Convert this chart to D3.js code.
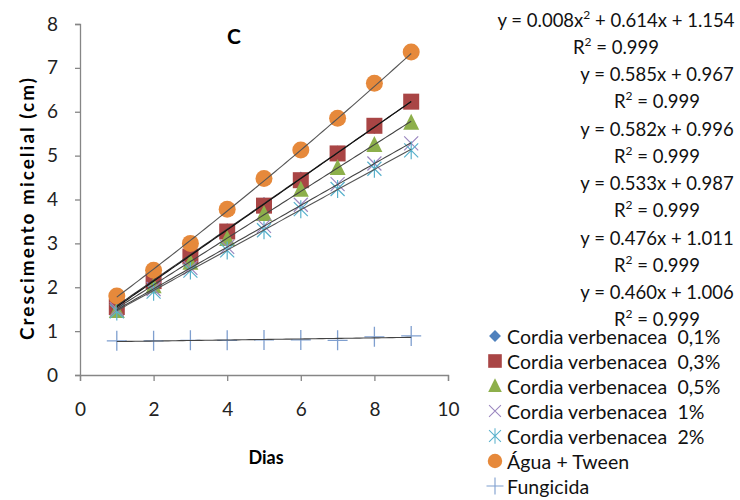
<!DOCTYPE html>
<html>
<head>
<meta charset="utf-8">
<script src="https://cdn.jsdelivr.net/npm/d3@7"></script>
<style>
  html, body { margin: 0; padding: 0; background: #fff; }
  svg { display: block; font-family: Lato, "Open Sans", sans-serif; }
  text { white-space: pre; }
</style>
</head>
<body>
<svg id="chart" width="740" height="500"></svg>
<script>
// Mycelial growth (cm) per day for each treatment
const dias = [1, 2, 3, 4, 5, 6, 7, 8, 9];
const seriesNames = [
  "Cordia verbenacea  0,1%",
  "Cordia verbenacea  0,3%",
  "Cordia verbenacea  0,5%",
  "Cordia verbenacea  1%",
  "Cordia verbenacea  2%",
  "Água + Tween",
  "Fungicida"
];
const cv01  = [1.55, 2.15, 2.74, 3.30, 3.90, 4.48, 5.07, 5.65, 6.22];
const cv03  = [1.55, 2.14, 2.70, 3.27, 3.86, 4.44, 5.05, 5.68, 6.23];
const cv05  = [1.46, 2.02, 2.56, 3.10, 3.67, 4.22, 4.72, 5.24, 5.75];
const cv1   = [1.50, 1.96, 2.44, 2.92, 3.40, 3.88, 4.35, 4.82, 5.28];
const cv2   = [1.45, 1.90, 2.38, 2.84, 3.30, 3.78, 4.24, 4.70, 5.12];
const agua  = [1.80, 2.39, 3.00, 3.78, 4.48, 5.13, 5.85, 6.65, 7.36];
const fung  = [0.78, 0.78, 0.79, 0.79, 0.80, 0.80, 0.79, 0.87, 0.89];

// Trendline coefficients [a2, a1, a0] : y = a2*x^2 + a1*x + a0
const trendAgua = [0.008, 0.614, 1.154];
const trendCv03 = [0, 0.585, 0.967];
const trendCv01 = [0, 0.582, 0.996];
const trendCv05 = [0, 0.533, 0.987];
const trendCv1  = [0, 0.476, 1.011];
const trendCv2  = [0, 0.460, 1.006];
const r2Values  = [0.999, 0.999, 0.999, 0.999, 0.999, 0.999];

const xTicks = [0, 2, 4, 6, 8, 10];
const yTicks = [0, 1, 2, 3, 4, 5, 6, 7, 8];

const svg = d3.select("#chart");
const x = d3.scaleLinear().domain([0, 10]).range([80, 448]);
const y = d3.scaleLinear().domain([0, 8]).range([375, 24]);

const axisColor = "#868686";

// Axes
const yAxis = svg.append("g").attr("transform", "translate(80,0)")
  .call(d3.axisLeft(y).tickValues(yTicks).tickSize(5).tickPadding(17).tickFormat(d3.format("d")));
const xAxis = svg.append("g").attr("transform", "translate(0,375)")
  .call(d3.axisBottom(x).tickValues(xTicks).tickSize(6).tickPadding(22).tickFormat(d3.format("d")));
[yAxis, xAxis].forEach(g => {
  g.select(".domain").attr("stroke", axisColor).attr("stroke-width", 1.3);
  g.selectAll(".tick line").attr("stroke", axisColor).attr("stroke-width", 1.3);
  g.selectAll(".tick text").attr("fill", "#222").style("font-size", "19px")
    .style("font-family", "Lato, sans-serif");
});

// Marker shapes
const colors = ["#4F81BD", "#A94545", "#8DAF4B", "#9A86BF", "#58B1CC", "#E6893B", "#7F9FCF"];
function drawMarker(g, kind, color) {
  switch (kind) {
    case "diamond":
      g.append("path").attr("d", "M0,-7L7,0L0,7L-7,0Z").attr("fill", color); break;
    case "square":
      g.append("rect").attr("x", -8).attr("y", -8).attr("width", 16).attr("height", 16).attr("fill", color); break;
    case "triangle":
      g.append("path").attr("d", "M0,-9L8,7L-8,7Z").attr("fill", color); break;
    case "x":
      g.append("path").attr("d", "M-7,-7L7,7M7,-7L-7,7").attr("stroke", color).attr("stroke-width", 1.2).attr("fill", "none"); break;
    case "star":
      g.append("path").attr("d", "M-7,-7L7,7M7,-7L-7,7M0,-9L0,9").attr("stroke", color).attr("stroke-width", 1.2).attr("fill", "none"); break;
    case "circle":
      g.append("circle").attr("r", 8.5).attr("fill", color); break;
    case "plus":
      g.append("path").attr("d", "M-10,0L10,0M0,-10L0,10").attr("stroke", color).attr("stroke-width", 1.3).attr("fill", "none"); break;
  }
}

const series = [
  { values: cv01, kind: "diamond" },
  { values: cv03, kind: "square" },
  { values: cv05, kind: "triangle" },
  { values: cv1,  kind: "x" },
  { values: cv2,  kind: "star" },
  { values: agua, kind: "circle" },
  { values: fung, kind: "plus" }
];

const marks = svg.append("g");
series.forEach((s, i) => {
  s.values.forEach((v, j) => {
    const g = marks.append("g").attr("transform", `translate(${x(dias[j])},${y(v)})`);
    drawMarker(g, s.kind, colors[i]);
  });
});

// Least-squares line for the fungicide series (no equation printed)
function linFit(xs, ys) {
  const n = xs.length, mx = d3.mean(xs), my = d3.mean(ys);
  let sxy = 0, sxx = 0;
  for (let i = 0; i < n; i++) { sxy += (xs[i] - mx) * (ys[i] - my); sxx += (xs[i] - mx) ** 2; }
  const b = sxy / sxx;
  return [0, b, my - b * mx];
}
const trendFung = linFit(dias, fung);

// Trendlines
const trends = [
  { c: trendCv01, color: "#333" },
  { c: trendCv03, color: "#111" },
  { c: trendCv05, color: "#444" },
  { c: trendCv1,  color: "#444" },
  { c: trendCv2,  color: "#555" },
  { c: trendAgua, color: "#555" },
  { c: trendFung, color: "#444" }
];
const xs = d3.range(1, 9.001, 0.1);
const line = d3.line().x(d => x(d[0])).y(d => y(d[1]));
trends.forEach(t => {
  const pts = xs.map(v => [v, t.c[0] * v * v + t.c[1] * v + t.c[2]]);
  svg.append("path").attr("d", line(pts)).attr("fill", "none")
    .attr("stroke", t.color).attr("stroke-width", 1.1);
});

// Trendline equations
const eqList = [trendAgua, trendCv03, trendCv01, trendCv05, trendCv1, trendCv2];
const eqCenters = [616, 657, 657, 657, 657, 657];
const f3 = d3.format(".3f");
const eqG = svg.append("g").style("font-size", "18.5px").attr("fill", "#111");
eqList.forEach((c, i) => {
  const yEq = 20 + i * 54.4;
  const t = eqG.append("text").attr("x", eqCenters[i]).attr("y", yEq)
    .attr("text-anchor", "middle").attr("dominant-baseline", "central");
  if (c[0] !== 0) {
    t.append("tspan").text(`y = ${f3(c[0])}x`);
    t.append("tspan").text("2").style("font-size", "12px").attr("dy", -6);
    t.append("tspan").text(` + ${f3(c[1])}x + ${f3(c[2])}`).attr("dy", 6);
  } else {
    t.append("tspan").text(`y = ${f3(c[1])}x + ${f3(c[2])}`);
  }
  const r = eqG.append("text").attr("x", eqCenters[i]).attr("y", yEq + 27)
    .attr("text-anchor", "middle").attr("dominant-baseline", "central");
  r.append("tspan").text("R");
  r.append("tspan").text("2").style("font-size", "12px").attr("dy", -6);
  r.append("tspan").text(` = ${f3(r2Values[i])}`).attr("dy", 6);
});

// Legend
const leg = svg.append("g");
seriesNames.forEach((name, i) => {
  const ly = 336 + i * 25;
  const g = leg.append("g").attr("transform", `translate(495,${ly})`);
  const m = g.append("g").attr("transform", "scale(0.85)");
  drawMarker(m, series[i].kind, colors[i]);
  leg.append("text").attr("x", 507).attr("y", ly).attr("dominant-baseline", "central")
    .style("font-size", "19.5px").style("letter-spacing", "0.1px").attr("fill", "#111").text(name);
});

// Titles
svg.append("text").attr("x", 234).attr("y", 35).attr("text-anchor", "middle")
  .attr("dominant-baseline", "central").style("font-size", "21px").style("font-weight", "bold").text("C");
svg.append("text").attr("x", 266).attr("y", 464).attr("text-anchor", "middle")
  .style("font-size", "18px").style("font-weight", "bold").text("Dias");
svg.append("text").attr("transform", "translate(26,209) rotate(-90)").attr("text-anchor", "middle")
  .attr("dominant-baseline", "central")
  .attr("textLength", 262).attr("lengthAdjust", "spacing")
  .style("font-size", "19px").style("font-weight", "bold").text("Crescimento micelial (cm)");
</script>
</body>
</html>
